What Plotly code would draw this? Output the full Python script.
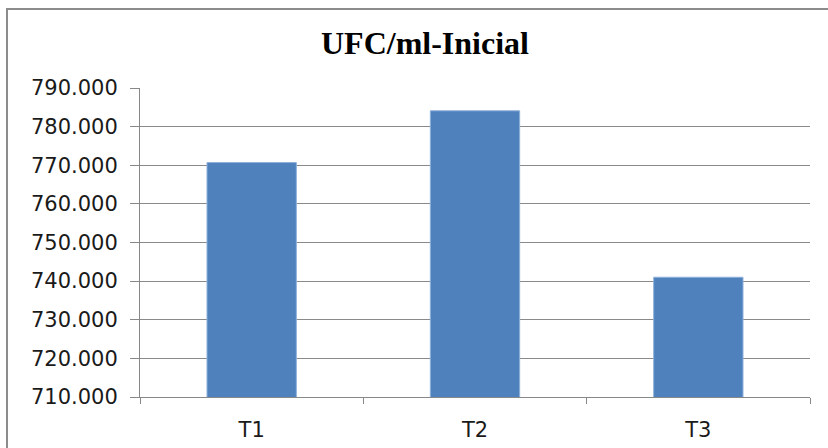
import plotly.graph_objects as go

categories = ["T1", "T2", "T3"]
ufc_values = [770700, 784100, 741000]
title_text = "UFC/ml-Inicial"

fig = go.Figure()
fig.add_trace(go.Bar(
    x=categories,
    y=ufc_values,
    marker=dict(color="#4F81BD", line=dict(color="#8FB0DA", width=1)),
    width=0.4,
))

W, H = 828, 448
L, R, T, B = 140, 18, 88, 51
pw, ph = W - L - R, H - T - B

def px_x(x):
    return (x - L) / pw

def px_y(y):
    return (H - B - y) / ph

fig.update_layout(
    width=W, height=H,
    margin=dict(l=L, r=R, t=T, b=B, pad=0, autoexpand=False),
    paper_bgcolor="white",
    plot_bgcolor="white",
    separators=",.",
    showlegend=False,
    title=dict(
        text="<b>" + title_text + "</b>",
        font=dict(family="Liberation Serif", size=32, color="black"),
        x=425 / W, xref="container", xanchor="center",
        y=1 - 43 / H, yref="container", yanchor="middle",
    ),
    font=dict(family="DejaVu Sans", size=21, color="#1a1a1a"),
    xaxis=dict(
        automargin=False,
        showline=True, linecolor="#888888", linewidth=1,
        ticks="outside", tickson="boundaries", ticklen=6, tickcolor="#888888",
        showgrid=False, ticklabelstandoff=14,
        tickfont=dict(family="DejaVu Sans", size=21, color="#1a1a1a"),
    ),
    yaxis=dict(
        automargin=False,
        range=[710000, 790000], dtick=10000, tickformat=",d",
        showline=True, linecolor="#888888", linewidth=1,
        ticks="outside", ticklen=9, tickcolor="#888888",
        showgrid=True, gridcolor="#8a8a8a", gridwidth=1,
        zeroline=False, ticklabelstandoff=8,
        tickfont=dict(family="DejaVu Sans", size=21, color="#1a1a1a"),
    ),
    shapes=[dict(
        type="rect", xref="paper", yref="paper",
        x0=px_x(7), x1=px_x(880), y0=px_y(490), y1=px_y(9),
        line=dict(color="#8c8c8c", width=2), fillcolor="rgba(0,0,0,0)",
        layer="above",
    )],
)

fig.write_html(
    "out.html",
    config={"displayModeBar": False},
    post_script="document.body.style.margin='0';document.body.style.overflow='hidden';",
)
